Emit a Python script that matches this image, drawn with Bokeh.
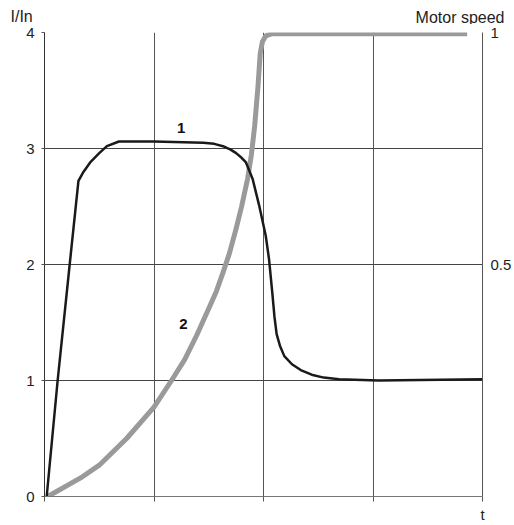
from bokeh.plotting import figure
from bokeh.layouts import column
from bokeh.models import (Range1d, LinearAxis, FixedTicker, Label,
                          NumeralTickFormatter)
from bokeh.embed import file_html
from bokeh.resources import INLINE

# ---- data ----
time_current = [0.02, 0.12, 0.23, 0.31, 0.357, 0.417, 0.50, 0.57, 0.68, 1.0,
                1.45, 1.55, 1.63, 1.70, 1.75, 1.80, 1.84, 1.90, 1.96, 2.02,
                2.05, 2.08, 2.10, 2.12, 2.15, 2.19, 2.26, 2.34, 2.44, 2.55,
                2.69, 3.05, 4.0]
current = [0.0, 1.0, 2.0, 2.72, 2.80, 2.88, 2.96, 3.02, 3.06, 3.06,
           3.05, 3.04, 3.02, 2.99, 2.96, 2.92, 2.88, 2.74, 2.51, 2.25,
           2.05, 1.76, 1.55, 1.40, 1.30, 1.21, 1.14, 1.09, 1.05, 1.025,
           1.01, 1.0, 1.01]

time_speed = [0.03, 0.33, 0.5, 0.75, 1.0, 1.16, 1.28, 1.39, 1.50, 1.57,
              1.63, 1.69, 1.75, 1.80, 1.855, 1.89, 1.92, 1.95, 1.97, 1.99,
              2.02, 2.08, 3.86]
speed = [0.0, 0.04, 0.0675, 0.125, 0.1925, 0.25, 0.295, 0.3475, 0.405,
         0.4425, 0.4825, 0.525, 0.5775, 0.625, 0.685, 0.7375, 0.80, 0.885,
         0.955, 0.98, 0.9925, 0.9975, 0.9975]

left_ticks = [0, 1, 2, 3, 4]
right_ticks = [0.5, 1]
x_ticks = [4]
x_minor_ticks = [0, 1, 2, 3]
x_tick_labels = {4: "t"}
grid_x = [1, 2, 3]
grid_y = [1, 2, 3]

FONT = "Liberation Sans"

# ---- header strip with the two axis titles ----
head = figure(width=514, height=24, output_backend="svg",
              toolbar_location=None, x_range=Range1d(0, 514),
              y_range=Range1d(24, 0), min_border=0,
              x_axis_location=None, y_axis_location=None, title=None)
head.frame_align = False
head.outline_line_color = None
head.xgrid.visible = False
head.ygrid.visible = False
head.add_layout(Label(x=10, y=16, text="I/In", text_font=FONT,
                      text_font_size="16px", text_color="#222222",
                      text_align="left", text_baseline="alphabetic"))
head.add_layout(Label(x=504, y=16.5, text="Motor speed", text_font=FONT,
                      text_font_size="16px", text_color="#222222",
                      text_align="right", text_baseline="alphabetic"))

# ---- main chart ----
p = figure(width=514, height=501, output_backend="svg", toolbar_location=None,
           x_range=Range1d(0, 4), y_range=Range1d(0, 4),
           min_border_left=44, min_border_right=29, min_border_top=8,
           min_border_bottom=26, title=None)
p.frame_align = False
p.outline_line_color = None
p.extra_y_ranges = {"speed": Range1d(0, 1)}

# grid
p.xgrid.ticker = FixedTicker(ticks=grid_x)
p.ygrid.ticker = FixedTicker(ticks=grid_y)
p.xgrid.grid_line_color = "#555555"
p.ygrid.grid_line_color = "#444444"

# left axis
ya = p.yaxis[0]
ya.ticker = FixedTicker(ticks=left_ticks)
ya.major_tick_out = 3
ya.major_tick_in = 0
ya.minor_tick_out = 0
ya.minor_tick_in = 0
ya.axis_line_color = "#333333"
ya.major_tick_line_color = "#555555"
ya.major_label_standoff = 7
ya.major_label_text_font = FONT
ya.major_label_text_font_size = "15px"
ya.major_label_text_color = "#222222"

# bottom axis
xa = p.xaxis[0]
xa.ticker = FixedTicker(ticks=x_ticks, minor_ticks=x_minor_ticks)
xa.major_label_overrides = x_tick_labels
xa.major_tick_out = 5
xa.major_tick_in = 0
xa.minor_tick_out = 5
xa.minor_tick_in = 0
xa.axis_line_color = "#777777"
xa.major_tick_line_color = "#555555"
xa.minor_tick_line_color = "#555555"
xa.major_label_standoff = 4
xa.major_label_text_font = FONT
xa.major_label_text_font_size = "15px"
xa.major_label_text_color = "#222222"

# right axis
ra = LinearAxis(y_range_name="speed", ticker=FixedTicker(ticks=right_ticks),
                formatter=NumeralTickFormatter(format="0.[0]"))
ra.major_tick_out = 0
ra.major_tick_in = 0
ra.minor_tick_out = 0
ra.minor_tick_in = 0
ra.axis_line_color = "#555555"
ra.major_label_standoff = 8
ra.major_label_text_font = FONT
ra.major_label_text_font_size = "15px"
ra.major_label_text_color = "#222222"
p.add_layout(ra, "right")

# curves
p.line(time_speed, speed, y_range_name="speed", line_color="#9a9a9a",
       line_width=5, line_join="round")
p.line(time_current, current, line_color="#1a1a1a", line_width=2.5,
       line_join="round")

# curve labels
p.add_layout(Label(x=1.249, y=3.175, text="1", text_font=FONT,
                   text_font_size="15px", text_font_style="bold",
                   text_color="#111111", text_align="center",
                   text_baseline="middle"))
p.add_layout(Label(x=1.268, y=1.483, text="2", text_font=FONT,
                   text_font_size="15px", text_font_style="bold",
                   text_color="#111111", text_align="center",
                   text_baseline="middle"))

layout = column(head, p, spacing=0)
open("out.html", "w").write(file_html(layout, INLINE))
